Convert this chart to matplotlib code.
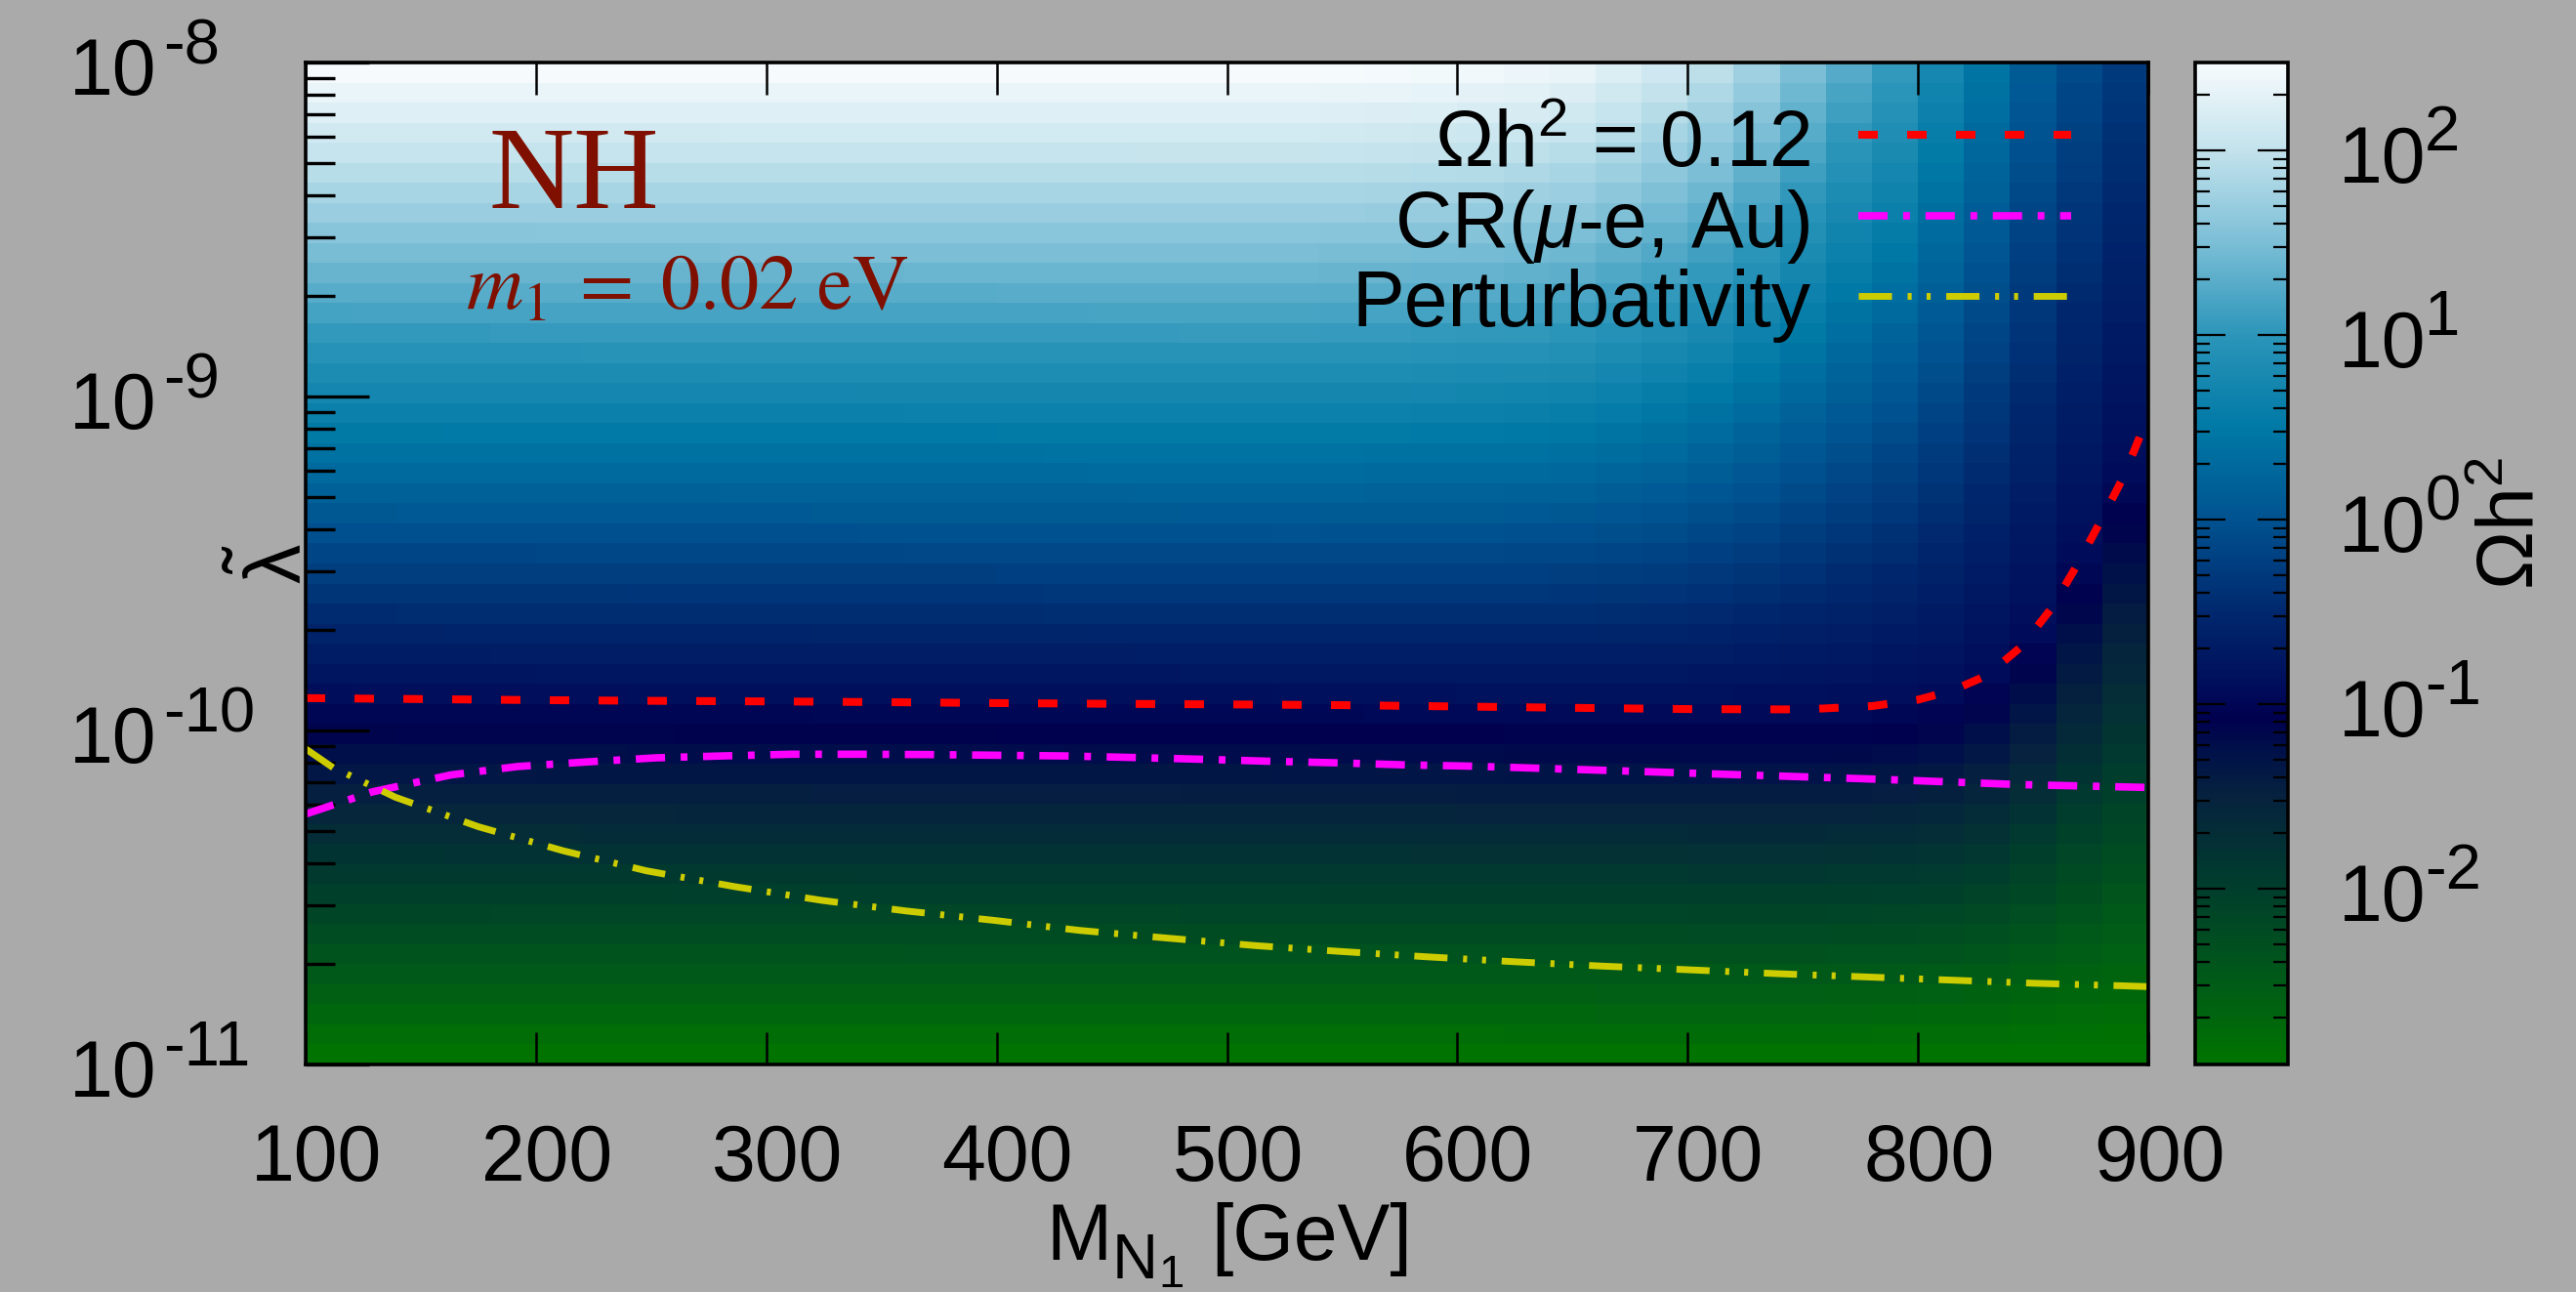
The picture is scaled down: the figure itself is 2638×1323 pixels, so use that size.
import numpy as np
import matplotlib
matplotlib.use('Agg')
import matplotlib.pyplot as plt
from matplotlib.colors import LogNorm, LinearSegmentedColormap
from matplotlib.lines import Line2D
import matplotlib.ticker as mticker

plt.rcParams['font.family'] = ['Liberation Sans', 'DejaVu Sans']
plt.rcParams['mathtext.fontset'] = 'custom'
plt.rcParams['mathtext.rm'] = 'Liberation Sans'
plt.rcParams['mathtext.it'] = 'Liberation Sans:italic'
plt.rcParams['mathtext.bf'] = 'Liberation Sans:bold'
plt.rcParams['mathtext.default'] = 'regular'
plt.rcParams['lines.scale_dashes'] = False

# ---------------- data ----------------
# Omega h^2 = 0.12 contour
omega_line_M = [100, 150, 200, 250, 300, 350, 400, 450, 500, 550, 600, 650, 700, 750,
                780, 800, 815, 830, 845, 858, 869, 879, 889, 897, 900]
omega_line_lam = [1.250e-10, 1.242e-10, 1.233e-10, 1.227e-10, 1.222e-10, 1.216e-10,
                  1.208e-10, 1.202e-10, 1.197e-10, 1.191e-10, 1.180e-10, 1.169e-10,
                  1.159e-10, 1.156e-10, 1.183e-10, 1.236e-10, 1.318e-10, 1.462e-10,
                  1.786e-10, 2.323e-10, 3.119e-10, 4.198e-10, 5.702e-10, 7.780e-10,
                  8.337e-10]

# CR(mu-e, Au) bound
cr_M = [100, 129, 163, 192, 222, 252, 281, 311, 341, 370, 400, 430, 459, 489, 518,
        548, 577, 606, 666, 725, 784, 843, 900]
cr_lam = [5.62e-11, 6.55e-11, 7.36e-11, 7.80e-11, 8.05e-11, 8.28e-11, 8.39e-11,
          8.49e-11, 8.49e-11, 8.47e-11, 8.43e-11, 8.39e-11, 8.30e-11, 8.20e-11,
          8.09e-11, 8.00e-11, 7.89e-11, 7.82e-11, 7.59e-11, 7.36e-11, 7.14e-11,
          6.89e-11, 6.75e-11]

# Perturbativity bound
pert_M = [100, 112, 120, 139, 175, 212, 248, 286, 324, 361, 399, 436, 474, 512, 549,
          587, 625, 663, 701, 739, 776, 813, 851, 889, 900]
pert_lam = [8.81e-11, 7.73e-11, 7.29e-11, 6.31e-11, 5.15e-11, 4.36e-11, 3.80e-11,
            3.41e-11, 3.10e-11, 2.88e-11, 2.70e-11, 2.52e-11, 2.39e-11, 2.27e-11,
            2.18e-11, 2.10e-11, 2.03e-11, 1.97e-11, 1.92e-11, 1.87e-11, 1.83e-11,
            1.79e-11, 1.75e-11, 1.72e-11, 1.71e-11]

# heat-map grid: 40 columns in M, 50 rows in log10(lambda)
col_M_edges = list(range(100, 901, 20))
row_loglam_edges = np.linspace(-11.0, -8.0, 51)
# per column: log10(Omega h^2) in the top row, the bottom row, and the log10(lambda)
# where Omega h^2 = 0.12
col_logomega_top = [2.46, 2.46, 2.46, 2.46, 2.46, 2.46, 2.46, 2.46, 2.46, 2.46,
                    2.46, 2.46, 2.46, 2.46, 2.46, 2.46, 2.46, 2.46, 2.46, 2.46,
                    2.46, 2.46, 2.45, 2.44, 2.43, 2.41, 2.38, 2.33, 2.22, 2.10,
                    1.95, 1.75, 1.50, 1.25, 1.05, 0.75, 0.45, 0.12, -0.10, -0.30]
col_loglam_crit = [-9.904, -9.905, -9.906, -9.907, -9.908, -9.909, -9.910, -9.911,
                   -9.912, -9.913, -9.913, -9.914, -9.915, -9.916, -9.917, -9.918,
                   -9.919, -9.920, -9.921, -9.922, -9.922, -9.923, -9.924, -9.926,
                   -9.927, -9.929, -9.930, -9.932, -9.934, -9.935, -9.936, -9.937,
                   -9.937, -9.933, -9.920, -9.895, -9.830, -9.705, -9.485, -9.235]
col_logomega_bottom = [-2.93] * 35 + [-2.94, -2.94, -2.95, -2.95, -2.95]
omega_crit = 0.12

cb_vmin, cb_vmax = 10 ** -2.952, 10 ** 2.476

# ---------------- build the cell table ----------------
row_centers = 0.5 * (row_loglam_edges[1:] + row_loglam_edges[:-1])
Z = np.zeros((len(row_centers), len(col_logomega_top)))
for j in range(len(col_logomega_top)):
    Z[:, j] = np.interp(row_centers,
                        [row_centers[0], col_loglam_crit[j], row_centers[-1]],
                        [col_logomega_bottom[j], np.log10(omega_crit), col_logomega_top[j]])
Omega = 10 ** Z

# ---------------- colour map ----------------
lo, hi = np.log10(cb_vmin), np.log10(cb_vmax)
anchors = [(-2.952, '#007400'), (-2.5, '#005a18'), (-2.0, '#003e2c'), (-1.5, '#06223e'),
           (-1.25, '#00104a'), (-1.08, '#00004e'), (-0.95, '#000a58'), (-0.5, '#00286e'),
           (0.0, '#005290'), (0.5, '#0079a6'), (1.0, '#2b95b9'), (1.5, '#7bbed6'),
           (2.0, '#c2e2ec'), (2.476, '#f7fbfd')]
cmap = LinearSegmentedColormap.from_list(
    'omega', [((v - lo) / (hi - lo), c) for v, c in anchors], N=512)

# ---------------- figure ----------------
W, H, DPI = 2638, 1323, 100
fig = plt.figure(figsize=(W / DPI, H / DPI), dpi=DPI, facecolor='#aaaaaa')
ax_l, ax_r, ax_t, ax_b = 313, 2200, 64, 1090
ax = fig.add_axes([ax_l / W, 1 - ax_b / H, (ax_r - ax_l) / W, (ax_b - ax_t) / H])

mesh = ax.pcolormesh(col_M_edges, 10 ** row_loglam_edges, Omega, cmap=cmap,
                     norm=LogNorm(vmin=cb_vmin, vmax=cb_vmax), shading='flat',
                     antialiased=False, edgecolors='none', rasterized=True)

ax.plot(omega_line_M, omega_line_lam, color='#ff0000', lw=5.8, dashes=(14.4, 21.6))
ax.plot(cr_M, cr_lam, color='#ff00ff', lw=5.5, dashes=(21.6, 11.5, 5.0, 11.5))
ax.plot(pert_M, pert_lam, color='#cccc00', lw=5.0,
        dashes=(24.5, 11.5, 3.0, 11.0, 3.0, 11.5))

ax.set_yscale('log')
ax.set_xlim(100, 900)
ax.set_ylim(1e-11, 1e-8)
for s in ax.spines.values():
    s.set_linewidth(2.6)
    s.set_zorder(5)

ax.set_xticks(range(100, 901, 100))
ax.xaxis.set_minor_locator(mticker.NullLocator())
ax.yaxis.set_major_locator(mticker.LogLocator(base=10, numticks=10))
ax.yaxis.set_minor_locator(mticker.LogLocator(base=10, subs=np.arange(2, 10), numticks=20))
ax.yaxis.set_minor_formatter(mticker.NullFormatter())
ax.tick_params(axis='x', which='both', direction='in', top=True, bottom=True,
               length=24, width=1.8, labelbottom=False)
ax.tick_params(axis='y', which='major', direction='in', left=True, right=False,
               length=47, width=2.4, labelleft=False)
ax.tick_params(axis='y', which='minor', direction='in', left=True, right=False,
               length=21.6, width=2.4)

FS = 58
# x tick labels
for m in range(100, 901, 100):
    ax.annotate(str(m), xy=(m, 0), xycoords=('data', 'axes fraction'),
                xytext=(11, -119), textcoords='offset pixels',
                ha='center', va='baseline', fontsize=FS)
# y tick labels
for k in range(-11, -7):
    ax.annotate('10', xy=(0, 10.0 ** k), xycoords=('axes fraction', 'data'),
                xytext=(160 - ax_l, -33), textcoords='offset pixels',
                ha='right', va='baseline', fontsize=FS)
    ax.annotate('-%d' % (-k), xy=(0, 10.0 ** k), xycoords=('axes fraction', 'data'),
                xytext=(167 - ax_l, -1), textcoords='offset pixels',
                ha='left', va='baseline', fontsize=47)


def fpx(x, y):
    return x / W, 1 - y / H


# x axis title, built piecewise to match the large subscripts
fig.text(*fpx(1071, 1290), 'M', ha='left', va='baseline', fontsize=FS)
fig.text(*fpx(1139, 1309), 'N', ha='left', va='baseline', fontsize=47)
fig.text(*fpx(1186, 1318), '1', ha='left', va='baseline', fontsize=34)
fig.text(*fpx(1240, 1290), '[GeV]', ha='left', va='baseline', fontsize=FS)

ax.annotate(r'$\tilde{\lambda}$', xy=(0, 0.5), xycoords='axes fraction',
            xytext=(283 - ax_l, 0), textcoords='offset pixels',
            ha='center', va='center', fontsize=FS, rotation=90)

# annotations
def afx(px):
    return (px - ax_l) / (ax_r - ax_l)

def afy(py):
    return (ax_b - py) / (ax_b - ax_t)

ax.text(afx(500), afy(213), 'NH', transform=ax.transAxes, ha='left', va='baseline',
        fontsize=87, family='Liberation Serif', color='#7f1000')
ax.text(afx(477), afy(316), r'$\mathit{m}_{\mathrm{1}}\;\mathrm{=}\;\mathrm{0.02\ eV}$',
        transform=ax.transAxes, ha='left', va='baseline', fontsize=58,
        math_fontfamily='stix', color='#7f1000')

# legend (drawn by hand to match layout)
leg_items = [('Ωh$^{2}$ = 0.12', dict(color='#ff0000', lw=5.8, dashes=(14.4, 21.6))),
             ('CR($\\mathit{\\mu}$-e, Au)', dict(color='#ff00ff', lw=5.5,
                                                  dashes=(21.6, 11.5, 5.0, 11.5))),
             ('Perturbativity', dict(color='#cccc00', lw=5.0,
                                     dashes=(24.5, 11.5, 3.0, 11.0, 3.0, 11.5)))]
leg_base = [170, 253, 334]
leg_line = [138, 221, 303]
for (lab, sty), yb, yl in zip(leg_items, leg_base, leg_line):
    ax.text(afx(1854), afy(yb), lab, transform=ax.transAxes, ha='right',
            va='baseline', fontsize=FS)
    ln = Line2D([afx(1903), afx(2121)], [afy(yl), afy(yl)], transform=ax.transAxes, **sty)
    ax.add_line(ln)

# ---------------- colour bar ----------------
cb_l, cb_r = 2248, 2343
cax = fig.add_axes([cb_l / W, 1 - ax_b / H, (cb_r - cb_l) / W, (ax_b - ax_t) / H])
cb = fig.colorbar(mesh, cax=cax)
cb.outline.set_linewidth(2.6)
cax.yaxis.set_major_locator(mticker.FixedLocator([1e-2, 1e-1, 1e0, 1e1, 1e2]))
cax.yaxis.set_minor_locator(mticker.LogLocator(base=10, subs=np.arange(2, 10), numticks=20))
cax.yaxis.set_minor_formatter(mticker.NullFormatter())
cax.tick_params(axis='y', which='major', direction='in', left=True, right=True,
                length=22, width=1.6, labelright=False, labelleft=False)
cax.tick_params(axis='y', which='minor', direction='in', left=True, right=True,
                length=10.5, width=1.6)
for k in range(-2, 3):
    cax.annotate('10', xy=(1, 10.0 ** k), xycoords=('axes fraction', 'data'),
                 xytext=(2395 - cb_r, -33), textcoords='offset pixels',
                 ha='left', va='baseline', fontsize=FS)
    cax.annotate(str(k), xy=(1, 10.0 ** k), xycoords=('axes fraction', 'data'),
                 xytext=(2483 - cb_r, 0), textcoords='offset pixels',
                 ha='left', va='baseline', fontsize=47)
fig.text(2573 / W, 1 - 536 / H, 'Ωh$^{2}$', rotation=90, ha='center', va='center',
         fontsize=FS)

fig.savefig('out.png', dpi=DPI, facecolor='#aaaaaa')
